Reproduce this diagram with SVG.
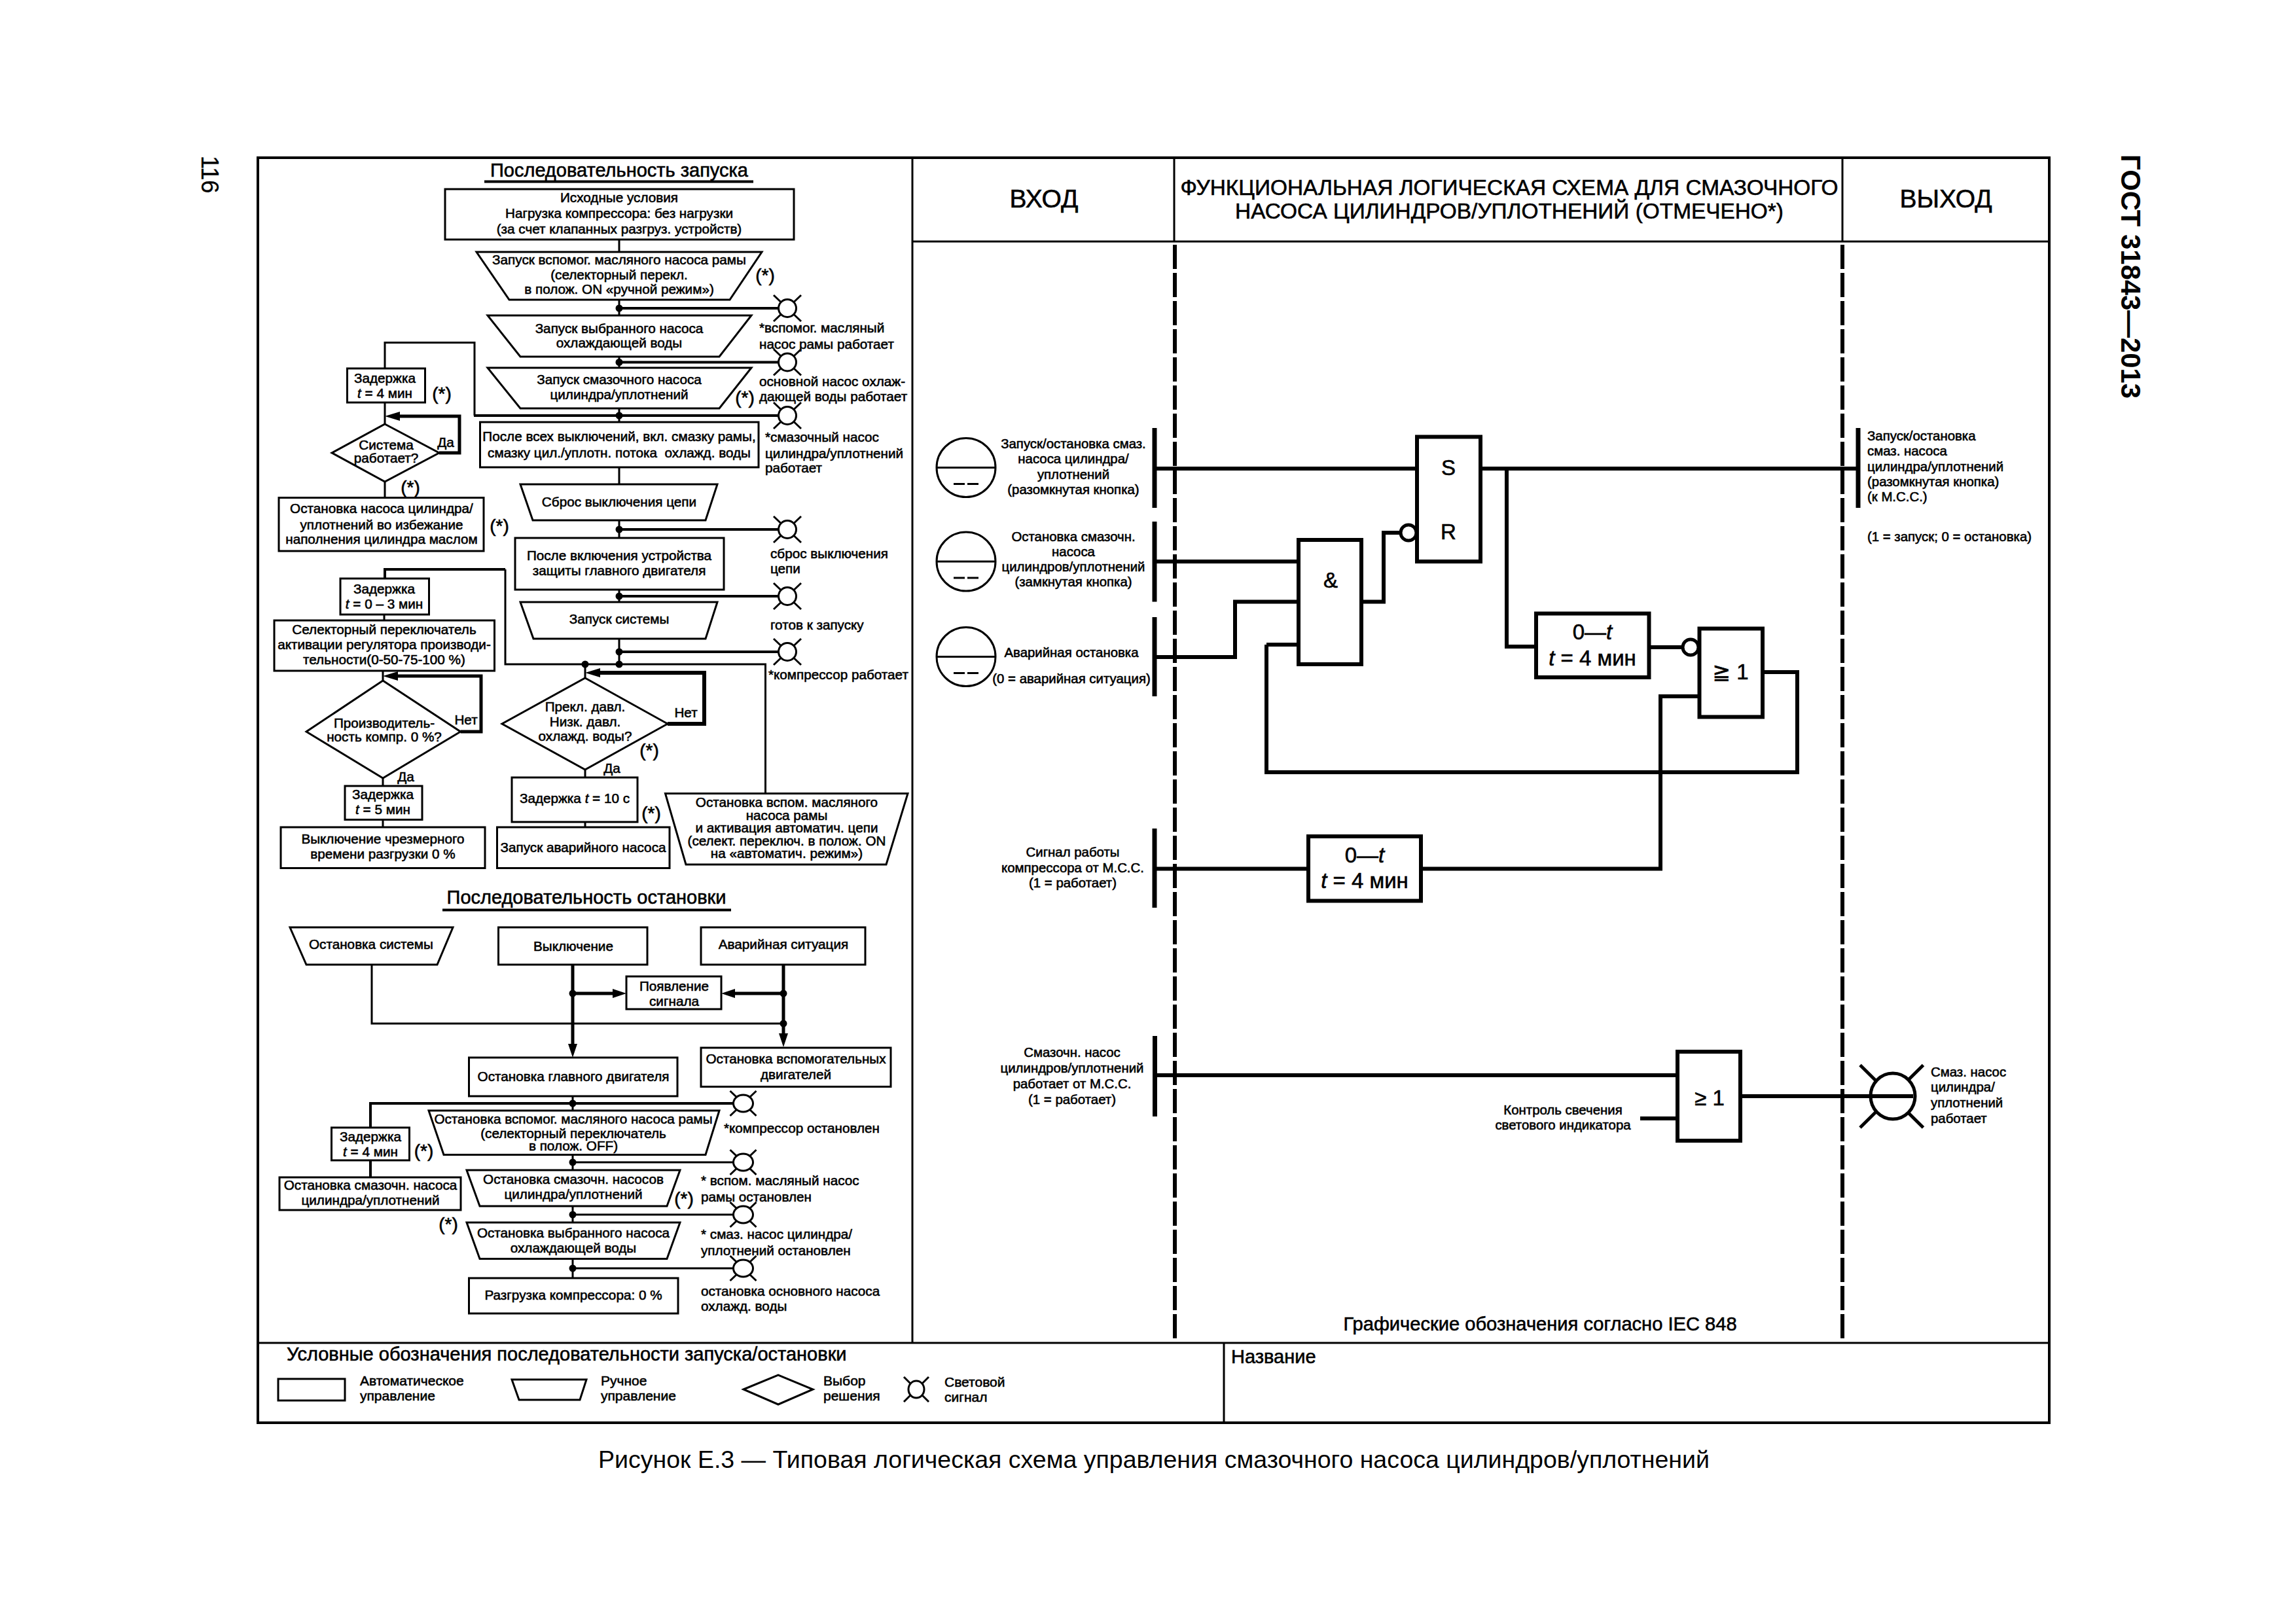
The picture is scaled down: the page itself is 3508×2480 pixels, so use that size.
<svg xmlns="http://www.w3.org/2000/svg" xmlns:xlink="http://www.w3.org/1999/xlink" width="3508" height="2480" viewBox="0 0 3508 2480">
<style>
text{font-family:"Liberation Sans",Arial,sans-serif;fill:#000;stroke:#000;stroke-width:.6}
.c{font-size:20.700px;text-anchor:middle}
.l{font-size:20.700px;text-anchor:start}
.s{font-size:20.400px;text-anchor:middle}
.sl{font-size:20.400px;text-anchor:start}
.star{font-size:28px;text-anchor:middle}
.title{font-size:29px;text-anchor:middle}
.head{font-size:39px;text-anchor:middle}
.head2{font-size:33.400px;text-anchor:middle}
.big{font-size:33px;text-anchor:middle}
.leg{font-size:21px;text-anchor:start}
.sym{font-family:"DejaVu Sans",sans-serif}
.b{fill:#fff;stroke:#000;stroke-width:3}
.g{fill:#fff;stroke:#000;stroke-width:6}
.w{fill:none;stroke:#000;stroke-width:3}
.w2{fill:none;stroke:#000;stroke-width:5}
.w3{fill:none;stroke:#000;stroke-width:6}
.f{fill:none;stroke:#000;stroke-width:4}
.fine{fill:none;stroke:#000;stroke-width:3}
.dash{fill:none;stroke:#000;stroke-width:6;stroke-dasharray:37 6}
.bar{fill:none;stroke:#000;stroke-width:7}
.dot{fill:#000}
</style>
<defs>
<marker id="arr" markerUnits="userSpaceOnUse" markerWidth="24" markerHeight="14" refX="0" refY="7" orient="auto"><path d="M0 0L23 7L0 14Z" fill="#000"/></marker>
<marker id="arr2" markerUnits="userSpaceOnUse" markerWidth="22" markerHeight="14" refX="0" refY="7" orient="auto"><path d="M0 0L21 7L0 14Z" fill="#000"/></marker>
<g id="lamp"><path d="M-21 -20L21 20M21 -20L-21 20" class="fine"/><ellipse rx="13.500" ry="13.500" fill="#fff" stroke="#000" stroke-width="3"/></g>
<g id="lamp2"><path d="M-20 -19L20 19M20 -19L-20 19" class="fine"/><ellipse rx="15" ry="13" fill="#fff" stroke="#000" stroke-width="3"/></g>
<g id="btn"><circle r="45" fill="#fff" stroke="#000" stroke-width="3"/><path d="M-45 0H45M-19 25H-2M2 25H19" class="fine"/></g>
</defs>
<rect width="3508" height="2480" fill="#fff"/>

<g id="frame">
<rect x="394" y="241" width="2737" height="1933" class="w" style="stroke-width:4"/>
<path d="M1394 241V2052M394 2052H3131M1870 2052V2174" class="w"/>
<path d="M1394 369H3131M1794 241V369M2815 241V369" class="w"/>
<path d="M1795 374V2047M2815 374V2047" class="dash"/>
</g>

<g id="connectors">
<path d="M946 366V385M946 458V482M946 545V562M946 624V645M946 714V740M946 795V822M946 901V920M946 976V1015" class="w"/>
<path d="M946 471H1190M946 553.500H1190M946 809H1190M946 911H1190M946 996H1190" class="f"/>
<path d="M724 635H1190" class="f"/>
<path d="M588 563V523.500H725V635" class="w"/>
<path d="M588 615V648M588 736V761" class="w"/>
<path d="M671 692H702V636H611" class="f" style="stroke-width:5" marker-end="url(#arr)"/>
<path d="M772 870V1015H1169.500V1212" class="w"/>
<path d="M772 870H588V884" class="f"/>
<path d="M587 939V948M585 1025V1040M585 1189V1201M585 1252V1264" class="w"/>
<path d="M703.600 1118H735V1033H608" class="f" style="stroke-width:5" marker-end="url(#arr)"/>
<path d="M894 1015V1036M894 1176V1188M894 1256V1264" class="w"/>
<path d="M1020 1106H1076V1028H917" class="f" style="stroke-width:6" marker-end="url(#arr)"/>
<path d="M568 1474V1564H1197" class="w"/>
<path d="M875 1474V1595" class="f" style="stroke-width:5" marker-end="url(#arr2)"/>
<path d="M1197 1474V1579" class="f" style="stroke-width:5" marker-end="url(#arr2)"/>
<path d="M875 1518H936" class="f" style="stroke-width:5" marker-end="url(#arr2)"/>
<path d="M1197 1518H1123" class="f" style="stroke-width:5" marker-end="url(#arr2)"/>
<path d="M875 1675V1697M875 1765V1788M875 1843V1868M875 1923V1953" class="w"/>
<path d="M566 1723V1686H1122" class="f"/>
<path d="M566 1773V1799" class="f"/>
<path d="M875 1776H1122M875 1856H1122M875 1938H1122" class="w"/>
<path d="M1764 716H2165" class="w3"/>
<path d="M1764 858H1984" class="w3"/>
<path d="M1764 1004H1887V919.500H1984" class="w3"/>
<path d="M1935 985H1984M1935 985V1180H2746V1027H2694" class="w3"/>
<path d="M2080 919.500H2114V814H2140" class="w3"/>
<path d="M2262 716H2839" class="w3"/>
<path d="M2302 716V988H2347" class="w3"/>
<path d="M2519 989H2571" class="w3"/>
<path d="M1764 1327.500H1999M2171 1327.500H2537V1064H2597" class="w3"/>
<path d="M1764 1643H2563M2506 1709H2563M2659 1675H2923" class="w3"/>
<circle class="dot" cx="946" cy="471" r="5.500"/><circle class="dot" cx="946" cy="553.500" r="5.500"/><circle class="dot" cx="946" cy="635" r="5.500"/><circle class="dot" cx="946" cy="809" r="5.500"/><circle class="dot" cx="946" cy="911" r="5.500"/><circle class="dot" cx="946" cy="996" r="5.500"/><circle class="dot" cx="946" cy="1015" r="5.500"/><circle class="dot" cx="894" cy="1015" r="5.500"/>
<circle class="dot" cx="875" cy="1518" r="5.500"/><circle class="dot" cx="1197" cy="1518" r="5.500"/><circle class="dot" cx="1197" cy="1564" r="5.500"/><circle class="dot" cx="875" cy="1686" r="5.500"/><circle class="dot" cx="875" cy="1776" r="5.500"/><circle class="dot" cx="875" cy="1856" r="5.500"/><circle class="dot" cx="875" cy="1938" r="5.500"/>
</g>

<g id="page-labels">
<text x="308" y="238" font-size="36" transform="rotate(90 308 238)" style="stroke-width:.3">116</text>
<text x="3241" y="236" font-size="41.800" font-weight="700" transform="rotate(90 3241 236)" style="stroke-width:0">ГОСТ 31843—2013</text>
<text x="1763" y="2243" font-size="37.500" text-anchor="middle" style="stroke-width:0">Рисунок Е.3 — Типовая логическая схема управления смазочного насоса цилиндров/уплотнений</text>
</g>

<g id="title-start"><text class="title" x="946" y="270">Последовательность запуска</text><path d="M740 277.500H1151" class="f"/></g>
<g id="n-initial"><rect class="b" x="680" y="289" width="533" height="77"/><text class="c" x="946" y="309">Исходные условия</text><text class="c" x="946" y="333">Нагрузка компрессора: без нагрузки</text><text class="c" x="946" y="356.500">(за счет клапанных разгруз. устройств)</text></g>
<g id="n-oilpump"><path class="b" d="M728 385H1164L1115 458H778Z"/><text class="c" x="946" y="404">Запуск вспомог. масляного насоса рамы</text><text class="c" x="946" y="427">(селекторный перекл.</text><text class="c" x="946" y="449">в полож. ON «ручной режим»)</text><text class="star" x="1169" y="430">(*)</text></g>
<g id="n-water"><path class="b" d="M745 482H1148L1099 545H795Z"/><text class="c" x="946" y="509">Запуск выбранного насоса</text><text class="c" x="946" y="531">охлаждающей воды</text></g>
<g id="n-lube"><path class="b" d="M745 562H1148L1099 624H795Z"/><text class="c" x="946" y="587">Запуск смазочного насоса</text><text class="c" x="946" y="610">цилиндра/уплотнений</text><text class="star" x="1138" y="617">(*)</text></g>
<g id="n-after"><rect class="b" x="733.500" y="645" width="425.500" height="69"/><text class="c" x="946" y="674">После всех выключений, вкл. смазку рамы,</text><text class="c" x="946" y="699" xml:space="preserve">смазку цил./уплотн. потока  охлажд. воды</text></g>
<g id="n-reset"><path class="b" d="M795 740H1096L1078 795H814Z"/><text class="c" x="946" y="774">Сброс выключения цепи</text></g>
<g id="n-protect"><rect class="b" x="787" y="822" width="319" height="79"/><text class="c" x="946" y="856">После включения устройства</text><text class="c" x="946" y="879">защиты главного двигателя</text></g>
<g id="n-system"><path class="b" d="M795 920H1096L1078 976H815Z"/><text class="c" x="946" y="953">Запуск системы</text></g>

<g id="lamp-1"><use href="#lamp" x="1203" y="471"/><text class="l" x="1160" y="507.500">*вспомог. масляный</text><text class="l" x="1160" y="532.500">насос рамы работает</text></g>
<g id="lamp-2"><use href="#lamp" x="1203" y="553.500"/><text class="l" x="1160" y="590">основной насос охлаж-</text><text class="l" x="1160" y="613">дающей воды работает</text></g>
<g id="lamp-3"><use href="#lamp" x="1203" y="635"/><text class="l" x="1169" y="675">*смазочный насос</text><text class="l" x="1169" y="700">цилиндра/уплотнений</text><text class="l" x="1169" y="722">работает</text></g>
<g id="lamp-4"><use href="#lamp" x="1203" y="809"/><text class="l" x="1177" y="852.500">сброс выключения</text><text class="l" x="1177" y="876">цепи</text></g>
<g id="lamp-5"><use href="#lamp" x="1203" y="911"/><text class="l" x="1177" y="962">готов к запуску</text></g>
<g id="lamp-6"><use href="#lamp" x="1203" y="996"/><text class="l" x="1174" y="1037.500">*компрессор работает</text></g>

<g id="n-delay4"><rect class="b" x="530.500" y="563" width="119" height="52"/><text class="c" x="588" y="585">Задержка</text><text class="c" x="588" y="608"><tspan font-style="italic">t</tspan> = 4 мин</text><text class="star" x="675" y="611">(*)</text></g>
<g id="n-running"><path class="b" d="M588 648L671 692L588 736L507 692Z"/><text class="c" x="590" y="687">Система</text><text class="c" x="590" y="706.500">работает?</text><text class="c" x="681" y="683">Да</text><text class="star" x="627" y="754">(*)</text></g>
<g id="n-stoppump"><rect class="b" x="426" y="760.500" width="313" height="81.500"/><text class="c" x="583" y="784">Остановка насоса цилиндра/</text><text class="c" x="583" y="808.500">уплотнений во избежание</text><text class="c" x="583" y="831">наполнения цилиндра маслом</text><text class="star" x="763" y="813">(*)</text></g>
<g id="n-delay03"><rect class="b" x="520" y="884" width="135.500" height="55"/><text class="c" x="587" y="907">Задержка</text><text class="c" x="587" y="930"><tspan font-style="italic">t</tspan> = 0 – 3 мин</text></g>
<g id="n-selector"><rect class="b" x="419" y="948" width="336.500" height="77"/><text class="c" x="587" y="968.500">Селекторный переключатель</text><text class="c" x="587" y="992">активации регулятора производи-</text><text class="c" x="587" y="1015">тельности(0-50-75-100 %)</text></g>
<g id="n-capacity"><path class="b" d="M585 1040L703.600 1118L585 1189L468 1118Z"/><text class="c" x="587" y="1112">Производитель-</text><text class="c" x="587" y="1133">ность компр. 0 %?</text><text class="c" x="712" y="1107">Нет</text><text class="c" x="620" y="1193.500">Да</text></g>
<g id="n-delay5"><rect class="b" x="527" y="1201" width="118" height="51.500"/><text class="c" x="585" y="1221">Задержка</text><text class="c" x="585" y="1244"><tspan font-style="italic">t</tspan> = 5 мин</text></g>
<g id="n-overtime"><rect class="b" x="429" y="1264" width="312" height="62.500"/><text class="c" x="585" y="1289">Выключение чрезмерного</text><text class="c" x="585" y="1312">времени разгрузки 0 %</text></g>
<g id="n-pressure"><path class="b" d="M894 1036L1020 1106L894 1176L767 1106Z"/><text class="c" x="894" y="1087">Прекл. давл.</text><text class="c" x="894" y="1110">Низк. давл.</text><text class="c" x="894" y="1132">охлажд. воды?</text><text class="c" x="1048" y="1096">Нет</text><text class="star" x="992" y="1156">(*)</text><text class="c" x="935" y="1181">Да</text></g>
<g id="n-delay10"><rect class="b" x="782" y="1188" width="192" height="68"/><text class="c" x="878" y="1227">Задержка <tspan font-style="italic">t</tspan> = 10 с</text><text class="star" x="995" y="1252">(*)</text></g>
<g id="n-emerg"><rect class="b" x="759.500" y="1264" width="263.500" height="62.500"/><text class="c" x="891" y="1302">Запуск аварийного насоса</text></g>
<g id="n-stopaux"><path class="b" d="M1016.500 1212.500H1387L1354 1321H1048Z"/><text class="c" x="1202" y="1233">Остановка вспом. масляного</text><text class="c" x="1202" y="1252.500">насоса рамы</text><text class="c" x="1202" y="1272">и активация автоматич. цепи</text><text class="c" x="1202" y="1292">(селект. переключ. в полож. ON</text><text class="c" x="1202" y="1311">на «автоматич. режим»)</text></g>

<g id="title-stop"><text class="title" x="896" y="1381">Последовательность остановки</text><path d="M676 1390.500H1117" class="f"/></g>
<g id="n-sysstop"><path class="b" d="M443 1417H692L668 1474H468Z"/><text class="c" x="567" y="1450">Остановка системы</text></g>
<g id="n-off"><rect class="b" x="761.500" y="1417" width="227.500" height="57"/><text class="c" x="876" y="1453">Выключение</text></g>
<g id="n-emergency"><rect class="b" x="1071" y="1417" width="251" height="57"/><text class="c" x="1197" y="1450">Аварийная ситуация</text></g>
<g id="n-signal"><rect class="b" x="957" y="1492" width="145" height="50"/><text class="c" x="1030" y="1513.500">Появление</text><text class="c" x="1030" y="1537">сигнала</text></g>
<g id="n-mainstop"><rect class="b" x="716.500" y="1616" width="318.500" height="59"/><text class="c" x="876" y="1652">Остановка главного двигателя</text></g>
<g id="n-auxstop"><rect class="b" x="1071" y="1601" width="290" height="59.500"/><text class="c" x="1216" y="1625">Остановка вспомогательных</text><text class="c" x="1216" y="1649">двигателей</text></g>
<g id="n-stopoil"><path class="b" d="M655 1697H1099L1078 1764.500H678Z"/><text class="c" x="876" y="1717">Остановка вспомог. масляного насоса рамы</text><text class="c" x="876" y="1738.500">(селекторный переключатель</text><text class="c" x="876" y="1758">в полож. OFF)</text></g>
<g id="n-delay4b"><rect class="b" x="506.500" y="1723" width="119" height="50"/><text class="c" x="566" y="1744">Задержка</text><text class="c" x="566" y="1767"><tspan font-style="italic">t</tspan> = 4 мин</text><text class="star" x="647.500" y="1768">(*)</text></g>
<g id="n-stoplube1"><rect class="b" x="427" y="1799" width="277" height="50"/><text class="c" x="566" y="1818">Остановка смазочн. насоса</text><text class="c" x="566" y="1840.500">цилиндра/уплотнений</text><text class="star" x="685" y="1879.500">(*)</text></g>
<g id="n-stoplube2"><path class="b" d="M713 1788H1039L1019 1843H733Z"/><text class="c" x="876" y="1808.500">Остановка смазочн. насосов</text><text class="c" x="876" y="1832">цилиндра/уплотнений</text><text class="star" x="1045" y="1840.500">(*)</text></g>
<g id="n-stopwater"><path class="b" d="M713 1868H1039L1019 1923.500H733Z"/><text class="c" x="876" y="1891">Остановка выбранного насоса</text><text class="c" x="876" y="1913.500">охлаждающей воды</text></g>
<g id="n-unload"><rect class="b" x="716.500" y="1953" width="319.500" height="54"/><text class="c" x="876" y="1986">Разгрузка компрессора: 0 %</text></g>

<g id="lamp-7"><use href="#lamp2" x="1135.500" y="1686"/><text class="l" x="1106" y="1730.500">*компрессор остановлен</text></g>
<g id="lamp-8"><use href="#lamp2" x="1135.500" y="1776"/><text class="l" x="1071" y="1810.500">* вспом. масляный насос</text><text class="l" x="1071" y="1836">рамы остановлен</text></g>
<g id="lamp-9"><use href="#lamp2" x="1135.500" y="1856"/><text class="l" x="1071" y="1893">* смаз. насос цилиндра/</text><text class="l" x="1071" y="1917.500">уплотнений остановлен</text></g>
<g id="lamp-10"><use href="#lamp2" x="1135.500" y="1938"/><text class="l" x="1071" y="1980">остановка основного насоса</text><text class="l" x="1071" y="2003">охлажд. воды</text></g>

<g id="legend">
<text x="438" y="2079" font-size="29">Условные обозначения последовательности запуска/остановки</text>
<text x="1881" y="2083" font-size="29">Название</text>
<rect class="b" x="425" y="2107" width="102" height="33"/><text class="leg" x="550" y="2117">Автоматическое</text><text class="leg" x="550" y="2140">управление</text>
<path class="b" d="M782 2108H896L886 2139H793Z"/><text class="leg" x="918" y="2117">Ручное</text><text class="leg" x="918" y="2140">управление</text>
<path class="b" d="M1136 2123L1189 2101L1242 2123L1189 2146Z"/><text class="leg" x="1258" y="2117">Выбор</text><text class="leg" x="1258" y="2140">решения</text>
<g transform="translate(1400 2123)"><path d="M-19 -19L19 19M19 -19L-19 19" class="fine"/><ellipse rx="12" ry="13" fill="#fff" stroke="#000" stroke-width="3"/></g><text class="leg" x="1443" y="2119">Световой</text><text class="leg" x="1443" y="2142">сигнал</text>
</g>

<g id="headers">
<text class="head" x="1595" y="317">ВХОД</text>
<text class="head" x="2973" y="317">ВЫХОД</text>
<text class="head2" x="2306" y="298">ФУНКЦИОНАЛЬНАЯ ЛОГИЧЕСКАЯ СХЕМА ДЛЯ СМАЗОЧНОГО</text>
<text class="head2" x="2306" y="334">НАСОСА ЦИЛИНДРОВ/УПЛОТНЕНИЙ (ОТМЕЧЕНО*)</text>
</g>

<g id="in-start"><use href="#btn" x="1476" y="714.500"/><path d="M1764 654V776" class="bar"/><text class="s" x="1640" y="685">Запуск/остановка смаз.</text><text class="s" x="1640" y="708">насоса цилиндра/</text><text class="s" x="1640" y="732">уплотнений</text><text class="s" x="1640" y="755">(разомкнутая кнопка)</text></g>
<g id="in-stop"><use href="#btn" x="1476" y="858"/><path d="M1764 797V919.500" class="bar"/><text class="s" x="1640" y="826.500">Остановка смазочн.</text><text class="s" x="1640" y="849.500">насоса</text><text class="s" x="1640" y="873">цилиндров/уплотнений</text><text class="s" x="1640" y="895.500">(замкнутая кнопка)</text></g>
<g id="in-emerg"><use href="#btn" x="1476" y="1003.500"/><path d="M1764 943V1064" class="bar"/><text class="s" x="1637" y="1003.500">Аварийная остановка</text><text class="s" x="1637" y="1043.500">(0 = аварийная ситуация)</text></g>
<g id="in-comp"><path d="M1764 1266V1387" class="bar"/><text class="s" x="1639" y="1309">Сигнал работы</text><text class="s" x="1639" y="1333">компрессора от М.С.С.</text><text class="s" x="1639" y="1356">(1 = работает)</text></g>
<g id="in-run"><path d="M1764.500 1583V1706" class="bar"/><text class="s" x="1638" y="1615">Смазочн. насос</text><text class="s" x="1638" y="1639">цилиндров/уплотнений</text><text class="s" x="1638" y="1663">работает от М.С.С.</text><text class="s" x="1638" y="1687">(1 = работает)</text></g>

<g id="g-sr"><rect class="g" x="2165" y="667.500" width="97" height="190.500"/><text class="big" x="2213" y="726">S</text><text class="big" x="2213" y="824">R</text><circle cx="2152" cy="814" r="12" fill="#fff" stroke="#000" stroke-width="5"/></g>
<g id="g-and"><rect class="g" x="1984" y="825" width="96" height="190"/><text class="big" x="2033" y="898">&amp;</text></g>
<g id="g-timer1"><rect class="g" x="2347" y="937.500" width="172.500" height="97.500"/><text class="big" x="2433" y="977">0—<tspan font-style="italic">t</tspan></text><text class="big" x="2433" y="1017"><tspan font-style="italic">t</tspan> = 4 мин</text></g>
<g id="g-or1"><circle cx="2583" cy="989" r="12" fill="#fff" stroke="#000" stroke-width="5"/><rect class="g" x="2596.500" y="960.500" width="96.500" height="135"/><text class="big" x="2644" y="1038"><tspan class="sym">≧</tspan> 1</text></g>
<g id="g-timer2"><rect class="g" x="1999" y="1278" width="172" height="98.500"/><text class="big" x="2085" y="1318">0—<tspan font-style="italic">t</tspan></text><text class="big" x="2085" y="1357"><tspan font-style="italic">t</tspan> = 4 мин</text></g>
<g id="g-or2"><rect class="g" x="2563" y="1607" width="96" height="136"/><text class="big" x="2612" y="1689">≥ 1</text><text class="s" x="2388" y="1702.500">Контроль свечения</text><text class="s" x="2388" y="1726">светового индикатора</text></g>

<g id="out-start"><path d="M2839 654V776" class="bar"/><text class="sl" x="2853" y="672.500">Запуск/остановка</text><text class="sl" x="2853" y="696">смаз. насоса</text><text class="sl" x="2853" y="719.500">цилиндра/уплотнений</text><text class="sl" x="2853" y="742.500">(разомкнутая кнопка)</text><text class="sl" x="2853" y="766">(к М.С.С.)</text><text class="sl" x="2853" y="826.500">(1 = запуск; 0 = остановка)</text></g>
<g id="out-lamp"><path d="M2842 1627.500L2938.500 1723M2938.500 1627.500L2842 1723" class="w2"/><ellipse cx="2892" cy="1675" rx="34" ry="35" fill="#fff" stroke="#000" stroke-width="5"/><path d="M2858 1675H2923" class="w3"/><text class="sl" x="2950" y="1645">Смаз. насос</text><text class="sl" x="2950" y="1668">цилиндра/</text><text class="sl" x="2950" y="1692">уплотнений</text><text class="sl" x="2950" y="1716">работает</text></g>
<g id="note"><text x="2353" y="2033" font-size="29.100" text-anchor="middle">Графические обозначения согласно IEC 848</text></g>
</svg>
